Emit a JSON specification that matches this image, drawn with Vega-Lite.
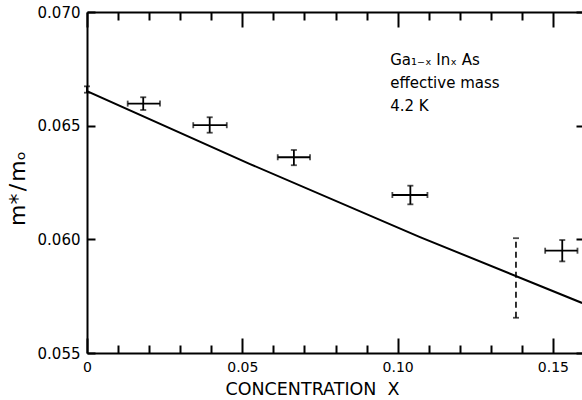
{
  "$schema": "https://vega.github.io/schema/vega-lite/v6.json",
  "width": 497,
  "height": 341,
  "autosize": {"type": "none"},
  "padding": {"left": 87, "top": 12, "right": 0, "bottom": 47},
  "background": "white",
  "config": {
    "view": {"stroke": null},
    "font": "DejaVu Sans",
    "axis": {
      "domainColor": "black",
      "domainWidth": 2,
      "tickColor": "black",
      "tickWidth": 2,
      "labelColor": "black",
      "titleColor": "black",
      "labelFont": "DejaVu Sans",
      "titleFont": "DejaVu Sans",
      "titleFontWeight": "normal",
      "grid": false
    }
  },
  "datasets": {
    "fit": [
      {"x": 0, "y": 0.06652},
      {"x": 0.0525, "y": 0.06331},
      {"x": 0.1072, "y": 0.06010},
      {"x": 0.1594, "y": 0.05720}
    ],
    "pts": [
      {"x": 0, "y": 0.06659, "xlo": 0, "xhi": 0, "ylo": 0.06645, "yhi": 0.06673},
      {"x": 0.0181, "y": 0.06597, "xlo": 0.0131, "xhi": 0.0235, "ylo": 0.06569, "yhi": 0.06625},
      {"x": 0.0395, "y": 0.06502, "xlo": 0.0342, "xhi": 0.0450, "ylo": 0.06469, "yhi": 0.06537},
      {"x": 0.0666, "y": 0.06361, "xlo": 0.0614, "xhi": 0.0718, "ylo": 0.06326, "yhi": 0.06393},
      {"x": 0.1041, "y": 0.06195, "xlo": 0.0983, "xhi": 0.1096, "ylo": 0.06154, "yhi": 0.06236},
      {"x": 0.1530, "y": 0.05950, "xlo": 0.1475, "xhi": 0.1579, "ylo": 0.05903, "yhi": 0.05997}
    ],
    "dashed": [
      {"x": 0.1381, "ylo": 0.05655, "yhi": 0.06005}
    ]
  },
  "layer": [
    {
      "data": {"name": "fit"},
      "mark": {"type": "line", "color": "black", "strokeWidth": 2, "clip": true},
      "encoding": {
        "x": {
          "field": "x", "type": "quantitative",
          "scale": {"domain": [0, 0.16], "nice": false, "zero": false},
          "axis": {
            "orient": "bottom",
            "values": [0, 0.01, 0.02, 0.03, 0.04, 0.05, 0.06, 0.07, 0.08, 0.09, 0.1, 0.11, 0.12, 0.13, 0.14, 0.15, 0.16],
            "tickSize": {"condition": {"test": "abs(datum.value*20 - round(datum.value*20)) < 0.001", "value": -15}, "value": -8},
            "labelExpr": "abs(datum.value*20 - round(datum.value*20)) < 0.001 ? (datum.value == 0 ? '0' : format(datum.value, '.2f')) : ''",
            "labelFontSize": 14,
            "labelPadding": 22,
            "labelFlush": false,
            "labelOverlap": false,
            "title": "CONCENTRATION\u00a0\u00a0X",
            "titleFontSize": 17.5,
            "titleAlign": "left",
            "titleAnchor": "start",
            "titleBaseline": "alphabetic",
            "titleX": 138,
            "titleY": 41
          }
        },
        "y": {
          "field": "y", "type": "quantitative",
          "scale": {"domain": [0.055, 0.070], "nice": false, "zero": false},
          "axis": {
            "orient": "left",
            "values": [0.055, 0.06, 0.065, 0.07],
            "format": ".3f",
            "tickSize": -8,
            "labelPadding": 15,
            "labelFontSize": 15,
            "title": "m*\u200a/\u200amₒ",
            "titleFontSize": 22,
            "titleAngle": -90,
            "titleAlign": "center",
            "titleBaseline": "alphabetic",
            "titleX": -63,
            "titleY": 176
          }
        }
      }
    },
    {
      "data": {"name": "pts"},
      "mark": {"type": "errorbar", "color": "black", "rule": {"strokeWidth": 1.8}, "ticks": {"size": 6, "thickness": 1.8}},
      "encoding": {
        "x": {
          "field": "xlo", "type": "quantitative",
          "axis": {
            "orient": "top",
            "values": [0, 0.01, 0.02, 0.03, 0.04, 0.05, 0.06, 0.07, 0.08, 0.09, 0.1, 0.11, 0.12, 0.13, 0.14, 0.15, 0.16],
            "tickSize": {"condition": {"test": "abs(datum.value*20 - round(datum.value*20)) < 0.001", "value": -15}, "value": -8},
            "labels": false,
            "title": null
          }
        },
        "x2": {"field": "xhi"},
        "y": {
          "field": "y", "type": "quantitative",
          "axis": {
            "orient": "right",
            "values": [0.055, 0.06, 0.065, 0.07],
            "tickSize": -8,
            "labels": false,
            "title": null
          }
        }
      }
    },
    {
      "data": {"name": "pts"},
      "mark": {"type": "errorbar", "color": "black", "rule": {"strokeWidth": 1.8}, "ticks": {"size": 6, "thickness": 1.8}},
      "encoding": {
        "x": {"field": "x", "type": "quantitative", "axis": null},
        "y": {"field": "ylo", "type": "quantitative", "axis": null},
        "y2": {"field": "yhi"}
      }
    },
    {
      "data": {"name": "dashed"},
      "mark": {"type": "errorbar", "color": "black", "rule": {"strokeWidth": 1.6, "strokeDash": [6, 4]}, "ticks": {"size": 6, "thickness": 1.8}},
      "encoding": {
        "x": {"field": "x", "type": "quantitative", "axis": null},
        "y": {"field": "ylo", "type": "quantitative", "axis": null},
        "y2": {"field": "yhi"}
      }
    },
    {
      "data": {"values": [{}]},
      "mark": {
        "type": "text",
        "text": ["Ga₁₋ₓ Inₓ As", "effective mass", "4.2 K"],
        "align": "left",
        "baseline": "alphabetic",
        "fontSize": 15,
        "font": "DejaVu Sans",
        "lineHeight": 23,
        "color": "black"
      },
      "encoding": {
        "x": {"datum": 0.0976, "type": "quantitative", "axis": null},
        "y": {"datum": 0.06767, "type": "quantitative", "axis": null}
      }
    }
  ]
}
